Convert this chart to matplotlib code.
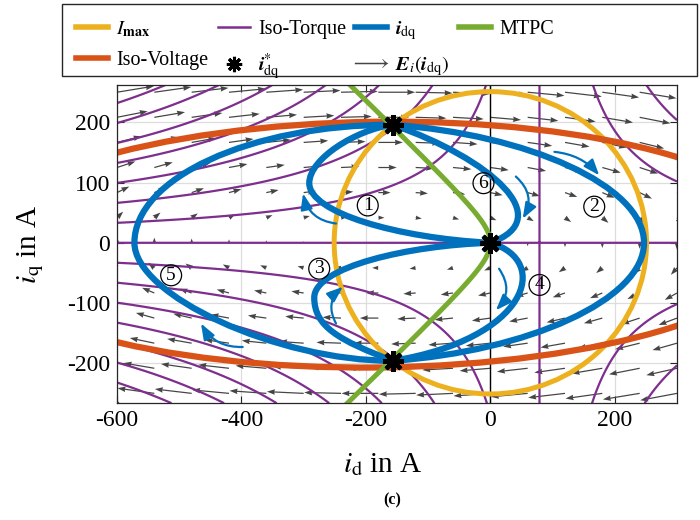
import numpy as np
import matplotlib
matplotlib.use('Agg')
import matplotlib.pyplot as plt
from matplotlib.path import Path
from matplotlib.patches import PathPatch, Ellipse, Circle, Rectangle
from matplotlib.lines import Line2D

plt.rcParams['font.family'] = ['Liberation Serif', 'DejaVu Serif']
plt.rcParams['mathtext.fontset'] = 'stix'
plt.rcParams['axes.unicode_minus'] = False

# colours (MATLAB default order)
c_blue = '#0072BD'
c_orange = '#D95319'
c_yellow = '#EDB120'
c_purple = '#7E2F8E'
c_green = '#77AC30'
c_arrow = '#454545'

# machine model, values
id_zero_torque = 79.0          # A, second zero-torque line
torque_step = 22500.0          # A^2 between neighbouring iso-torque lines
torque_levels = np.arange(-8, 9) * torque_step
i_max = 251.0                  # current limit circle radius
volt_center = (-180.0, -3.0)   # iso-voltage ellipse
volt_axes = (660.0, 204.0)     # semi axes (d, q)
volt_tilt = 0.7                # deg

# reference operating points i*_dq
ref_d = [-157.0, 0.0, -157.0]
ref_q = [196.0, 0.0, -196.0]

# trajectories, cubic bezier control points (id, iq)
traj_1 = [(-157, 196), (-215, 188), (-291, 140), (-291, 99), (-291, 50), (-150, 8), (0, 0)]
traj_2 = [(-157, 196), (60, 180), (247, 95), (247, 0), (247, -95), (60, -180), (-157, -196)]
traj_3 = [(0, 0), (-130, -4), (-283, -40), (-283, -91), (-283, -140), (-242, -162), (-157, -196)]
traj_4 = [(0, 0), (100, -30), (60, -160), (-157, -196)]
traj_5 = [(-157, 196), (-387, 196), (-572, 107), (-572, 0), (-572, -87), (-344, -196), (-157, -196)]
traj_6 = [(-157, 196), (0, 140), (110, 40), (0, 0)]
trajectories = [traj_1, traj_2, traj_3, traj_4, traj_5, traj_6]

# little direction arrows next to each trajectory: tail, head, bend
flow_tail = [(-248, 32), (103, 151), (-248, -134), (14, -43), (-398, -173), (41, 110)]
flow_head = [(-301, 82), (175, 112), (-237, -73), (9, -112), (-465, -134), (52, 40)]
flow_rad = [-0.35, -0.2, -0.4, -0.4, -0.3, -0.4]

# circled trajectory numbers
num_labels = ['1', '2', '3', '4', '5', '6']
num_d = [-197, 167, -275, 79, -513, -11]
num_q = [62, 60, -43, -70, -54, 99]

# vector field grid
field_d = np.linspace(-600, 300, 16)
field_q = np.linspace(-250, 250, 13)
field_gain_q = 0.2365
field_gain_d = 0.0239

fig = plt.figure(figsize=(7, 5.2), dpi=100)
ax = fig.add_axes([117 / 700, 1 - 403 / 520, 560 / 700, 318 / 520])

# vector field E_i(i_dq)
FD, FQ = np.meshgrid(field_d, field_q)
U = field_gain_q * FQ
V = -field_gain_d * (FD - volt_center[0])
ax.quiver(FD, FQ, U, V, angles='xy', scale_units='xy', scale=1, color=c_arrow,
          width=0.0022, headwidth=4.5, headlength=6.5, headaxislength=6, zorder=2)

# iso-torque lines
gd = np.linspace(-600, 300, 601)
gq = np.linspace(-266.3, 263.7, 530)
GD, GQ = np.meshgrid(gd, gq)
torque = GQ * (id_zero_torque - GD)
ax.contour(GD, GQ, torque, levels=torque_levels, colors=c_purple, linewidths=1.6,
           linestyles='solid', zorder=3)

ax.axvline(0, color='black', lw=1.0, zorder=2.5)

# current limit
ax.add_patch(Circle((0, 0), i_max, fill=False, ec=c_yellow, lw=3.6, zorder=4))
# iso-voltage
ax.add_patch(Ellipse(volt_center, 2 * volt_axes[0], 2 * volt_axes[1], angle=volt_tilt,
                     fill=False, ec=c_orange, lw=4.5, zorder=4.5))

# trajectories
for tr in trajectories:
    codes = [Path.MOVETO] + [Path.CURVE4] * (len(tr) - 1)
    ax.add_patch(PathPatch(Path(tr, codes), fill=False, ec=c_blue, lw=4.5,
                           capstyle='round', zorder=5))

# MTPC
q_mtpc = np.linspace(-270, 270, 200)
d_mtpc = id_zero_torque / 2 - np.sqrt(id_zero_torque ** 2 / 4 + q_mtpc ** 2)
ax.plot(d_mtpc, q_mtpc, color=c_green, lw=3.6, zorder=6)

for tail, head, rad in zip(flow_tail, flow_head, flow_rad):
    ax.annotate('', xy=head, xytext=tail,
                arrowprops=dict(arrowstyle='-|>,head_length=0.8,head_width=0.3',
                                connectionstyle='arc3,rad=%s' % rad, color=c_blue,
                                lw=1.6, shrinkA=0, shrinkB=0, mutation_scale=12),
                zorder=7)

ax.plot(ref_d, ref_q, ls='none', marker=(8, 2, 0), ms=15, mew=3, color='black', zorder=8)

for lab, x, y in zip(num_labels, num_d, num_q):
    ax.text(x, y, lab, ha='center', va='center', fontsize=14, zorder=9,
            bbox=dict(boxstyle='circle,pad=0.1', fc='none', ec='black', lw=0.9))

ax.set_xlim(-600, 300)
ax.set_ylim(-266, 262)
ax.set_xticks([-600, -400, -200, 0, 200])
ax.set_yticks([-200, -100, 0, 100, 200])
ax.grid(True, color='#dddddd', lw=0.9)
ax.set_axisbelow(True)
ax.tick_params(direction='in', top=True, right=True, labelsize=17, length=5,
               color='#262626', pad=5)
for s in ax.spines.values():
    s.set_color('#262626')
    s.set_linewidth(0.9)
    s.set_zorder(10)

ax.set_xlabel(r'$i_{\mathrm{d}}$ in A', fontsize=21)
ax.set_ylabel(r'$i_{\mathrm{q}}$ in A', fontsize=21)
ax.xaxis.set_label_coords(0.475, -0.15)
ax.yaxis.set_label_coords(-0.127, 0.5)

# legend
handles = [
    Line2D([], [], color=c_yellow, lw=4),
    Line2D([], [], color=c_orange, lw=4),
    Line2D([], [], color=c_purple, lw=1.8),
    Line2D([], [], ls='none', marker=(8, 2, 0), ms=11, mew=2.2, color='black'),
    Line2D([], [], color=c_blue, lw=4),
    Line2D([], [], ls='none', marker=r'$\longrightarrow$', ms=24, mew=0, color=c_arrow),
    Line2D([], [], color=c_green, lw=4),
]
labels = [r'$I_{\mathbf{max}}$', 'Iso-Voltage', 'Iso-Torque', r'$\mathbfit{i}^{*}_{\mathrm{dq}}$',
          r'$\mathbfit{i}_{\mathrm{dq}}$', r'$\mathbfit{E}_{i}(\mathbfit{i}_{\mathrm{dq}})$', 'MTPC']
fig.patches.append(Rectangle((62 / 700, 1 - 76 / 520), 635 / 700, 72 / 520,
                             transform=fig.transFigure, fill=False, ec='#262626', lw=1))
fig.legend(handles, labels, ncol=4, loc='upper left', bbox_to_anchor=(60 / 700, 1 - 3 / 520),
           frameon=False, fontsize=14.5, handlelength=1.6, handletextpad=0.4,
           columnspacing=0.45, labelspacing=0.6, borderpad=0.3)

fig.text(392 / 700, 1 - 500 / 520, '(c)', ha='center', va='center', fontsize=11.5,
         fontweight='bold')

fig.savefig('out.png', dpi=100)
